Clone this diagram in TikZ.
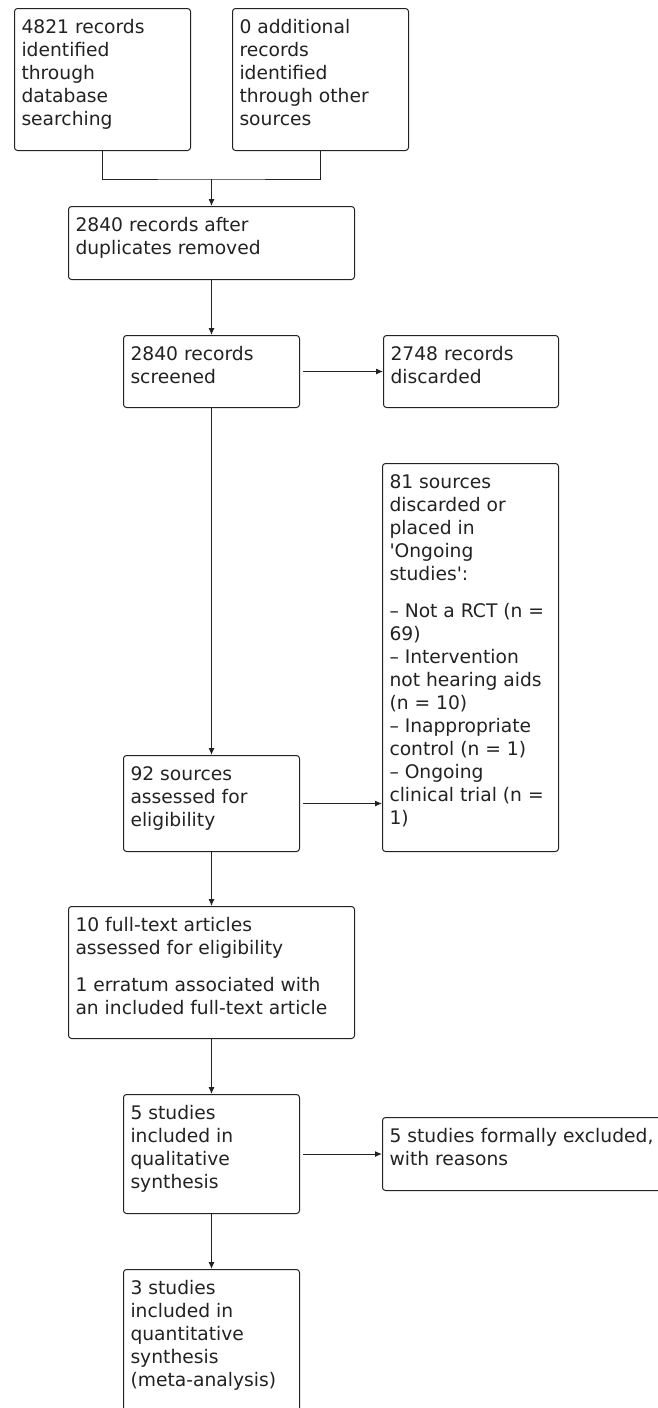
\documentclass[tikz,border=0pt]{standalone}
\usepackage{fontspec}
\setmainfont{DejaVu Sans}
\usetikzlibrary{arrows.meta}
\definecolor{ink}{HTML}{222222}
\newcommand{\bxt}[3]{\parbox[c][#2][t]{#1}{\raggedright\fontsize{18.7pt}{23pt}\selectfont\vspace*{9pt}\rule{0pt}{16pt}#3}}
\tikzset{
  box/.style={draw=ink, rounded corners=3pt, inner xsep=7pt, inner ysep=0pt,
    anchor=north west, line width=1pt, text=ink},
  link/.style={draw=ink, line width=1pt},
  arr/.style={link, -{Latex[length=7pt,width=6pt]}}
}
\begin{document}
\begin{tikzpicture}[x=1pt,y=-1pt]
\useasboundingbox (0,0) rectangle (657,1408);
\node[box] (b1) at (14,8) {\bxt{162pt}{142pt}{4821 records\\identified\\through\\database\\searching}};
\node[box] (b2) at (232,8) {\bxt{162pt}{142pt}{0 additional\\records\\identified\\through other\\sources}};
\node[box] (b3) at (68,206) {\bxt{272pt}{73pt}{2840 records after\\duplicates removed}};
\node[box] (b4) at (123,335) {\bxt{162pt}{72pt}{2840 records\\screened}};
\node[box] (b5) at (383,335) {\bxt{161pt}{72pt}{2748 records\\discarded}};
\node[box] (b6) at (382,463) {\bxt{162pt}{388pt}{81 sources\\discarded or\\placed in\\\textquotesingle Ongoing\\studies\textquotesingle :\\[14pt]– Not a RCT (n =\\69)\\– Intervention\\not hearing aids\\(n = 10)\\– Inappropriate\\control (n = 1)\\– Ongoing\\clinical trial (n =\\1)}};
\node[box] (b7) at (123,755) {\bxt{162pt}{96pt}{92 sources\\assessed for\\eligibility}};
\node[box] (b8) at (68,906) {\bxt{272pt}{132pt}{10 full-text articles\\assessed for eligibility\\[14pt]1 erratum associated with\\an included full-text article}};
\node[box] (b9) at (123,1094) {\bxt{162pt}{119pt}{5 studies\\included in\\qualitative\\synthesis}};
\node[box] (b10) at (382,1117) {\bxt{286pt}{73pt}{5 studies formally excluded,\\with reasons}};
\node[box] (b11) at (123,1269) {\bxt{162pt}{160pt}{3 studies\\included in\\quantitative\\synthesis\\(meta-analysis)}};
\coordinate (m) at (b3.north |- 0,179);
\draw[link] (b1.south) |- (m) -| (b2.south);
\draw[arr] (m) -- (b3.north);
\draw[arr] (b3.south) -- (b4.north);
\draw[arr, shorten <=3pt] (b4.east) -- (b5.west);
\draw[arr] (b4.south) -- (b7.north);
\draw[arr, shorten <=3pt] (b7.east) -- (b7.east -| b6.west);
\draw[arr] (b7.south) -- (b8.north);
\draw[arr] (b8.south) -- (b9.north);
\draw[arr, shorten <=3pt] (b9.east) -- (b9.east -| b10.west);
\draw[arr] (b9.south) -- (b11.north);
\end{tikzpicture}
\end{document}
